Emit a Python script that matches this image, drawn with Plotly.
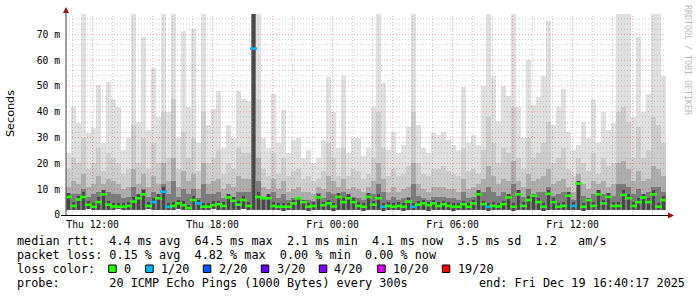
import datetime as dt
import plotly.graph_objects as go

# ---------------- data (ms) ----------------
START = dt.datetime(2025, 12, 18, 10, 40, 17)
STEP_MIN = 15

lo = [2.0, 1.8, 2.1, 1.9, 2.2, 2.0, 1.8, 2.1, 2.0, 1.9, 2.2, 2.0, 1.8, 2.1, 1.9, 2.0, 2.2, 1.8, 2.0, 2.1,
      1.9, 2.0, 2.2, 1.8, 1.9, 2.1, 2.0, 1.8, 2.0, 2.2, 1.9, 2.0, 2.1, 1.8, 2.0, 2.2, 1.9, 2.0, 2.1, 1.8,
      1.9, 2.0, 1.8, 1.7, 1.8, 2.0, 1.9, 1.8, 1.7, 1.9, 2.0, 1.8, 1.9, 1.7, 2.0, 1.8, 1.9, 2.0, 1.8, 1.7,
      1.9, 2.0, 1.8, 1.7, 1.9, 1.8, 2.0, 1.7, 1.9, 1.8, 2.0, 1.9, 1.7, 1.8, 2.0, 1.9, 1.8, 1.7, 1.9, 2.0,
      1.8, 1.9, 2.0, 1.8, 1.7, 1.9, 2.0, 1.8, 1.9, 1.7, 2.0, 1.8, 1.9, 2.0, 1.8, 1.7, 1.9, 2.0, 1.8, 1.9,
      2.0, 1.8, 1.9, 1.7, 2.0, 1.9, 1.8, 2.0, 1.9, 1.8, 2.0, 1.9, 1.8, 2.0, 1.9, 1.8, 2.0, 1.9, 1.8, 2.0]

top = [24, 41.8, 35.5, 78, 31.8, 33.6, 50.3, 28, 51.5, 44.8, 42, 25, 30, 78, 36, 69, 33, 56.8, 38, 78,
       40, 78, 30, 71.5, 42, 72, 28, 78, 35, 41, 48, 26, 35, 30, 48, 45, 44, 78, 78, 30,
       26, 47, 28, 40.6, 24, 29, 30, 22, 25, 20, 22, 29, 53.5, 40, 26, 54, 24, 30, 30, 23,
       26, 42, 78, 51, 25, 32, 24, 27, 34, 78, 35, 26, 24, 31.6, 31, 32, 29, 27, 25, 49.6,
       28, 31, 27, 50, 78, 54, 36.5, 50, 46, 78, 42, 30, 60, 42.5, 45.7, 54, 75, 35, 42, 49,
       32, 25, 27, 36, 30, 45, 28, 40, 33, 35.5, 78, 78, 78, 38, 69, 40, 47, 78, 78, 54]

hi = [18, 22, 20, 30, 18, 20, 26, 17, 24, 22, 20, 16, 18, 35, 20, 30, 18, 28, 20, 40,
      22, 45, 18, 32, 22, 30, 17, 40, 20, 22, 25, 16, 20, 18, 26, 24, 24, 78, 45, 18,
      15, 24, 16, 22, 15, 17, 18, 14, 15, 13, 14, 17, 28, 22, 15, 26, 15, 18, 17, 14,
      16, 22, 40, 26, 15, 18, 15, 16, 19, 40, 20, 16, 15, 18, 18, 19, 17, 16, 15, 26,
      17, 18, 16, 25, 38, 28, 20, 26, 24, 42, 22, 18, 30, 22, 24, 28, 36, 20, 22, 26,
      18, 15, 22, 20, 17, 24, 16, 22, 19, 20, 40, 42, 36, 22, 34, 22, 25, 38, 35, 28]

mid = [11, 13, 12, 16, 11, 12, 15, 12, 14, 13, 12, 10, 11, 18, 12, 16, 11, 15, 12, 20,
       13, 22, 11, 17, 13, 16, 10, 20, 12, 13, 14, 10, 12, 11, 15, 14, 14, 78, 22, 11,
       10, 14, 10, 13, 9, 10, 11, 9, 9, 8, 11, 10, 15, 13, 11, 14, 10, 11, 10, 9,
       11, 13, 20, 14, 9, 11, 9, 10, 11, 20, 12, 10, 9, 11, 11, 11, 10, 10, 9, 14,
       10, 11, 12, 14, 19, 15, 12, 14, 13, 21, 13, 11, 16, 13, 14, 15, 18, 12, 13, 14,
       11, 9, 16, 12, 10, 13, 12, 13, 11, 12, 20, 21, 18, 13, 17, 13, 14, 19, 18, 15]

dark = [8.5, 8, 8, 10, 7, 8, 9, 9.5, 9, 8, 8, 6.5, 7, 11, 8, 10, 7, 9, 8, 12,
        8, 13, 7, 10, 8, 10, 6.5, 12, 8, 8, 9, 6.5, 8, 7, 9, 9, 9, 78, 13, 7,
        8, 9, 6.5, 8, 6, 6.5, 7, 6, 6, 5.5, 8.5, 6.5, 9, 8, 8.5, 9, 8, 7, 6.5, 6,
        8.5, 8, 12, 9, 6, 7, 6, 6.5, 7, 12, 7.5, 6.5, 6, 7, 7, 7, 6.5, 6.5, 6, 9,
        6.5, 7, 9.5, 9, 11, 9, 7.5, 9, 8, 12, 9.5, 7, 10, 8, 9, 9, 11, 7.5, 8, 9,
        9, 6, 13, 7.5, 6.5, 8, 9.5, 8, 8.5, 7.5, 12, 12, 11, 8, 10, 8, 9, 11, 11, 9]

core = [8.5, 5, 7.5, 9, 5.5, 4.5, 7, 9.5, 5.5, 4.5, 4.5, 4.5, 5, 7, 8, 9.5, 5, 6.5, 8, 11,
        4.5, 5, 6, 5.5, 4, 7.5, 6, 4.5, 4.5, 5.5, 5.5, 5, 8, 7, 5.5, 7.5, 5, 78, 9, 7,
        8, 5, 4.5, 4.5, 4.5, 6, 7, 6, 4.5, 5, 8, 5, 6, 4.5, 8.5, 6.5, 8, 6.5, 5, 4.5,
        8.5, 5.5, 8, 4.5, 5, 4.5, 5, 4.5, 6.5, 4.5, 5.5, 6, 5, 6, 5, 5.5, 5, 4.5, 4.5, 5.5,
        4.5, 6, 9.5, 5.5, 4.5, 5, 4.5, 5.5, 8, 4.5, 9.5, 5, 7.5, 8, 6.5, 4.5, 9.5, 6.5, 4.5, 5,
        9, 5, 13, 4.5, 6.5, 5, 9.5, 6, 8.5, 5, 5, 9.5, 8, 5, 6.5, 8, 6.5, 9.5, 4.5, 7.5]

med = [7, 3.5, 6, 7, 4, 3.2, 5, 8, 4, 3.3, 3.2, 3.2, 3.5, 5.2, 6.5, 8, 3.5, 5, 6.5, 9,
       3.2, 3.5, 4.5, 3.8, 2.7, 5.8, 4.5, 3.2, 3.2, 3.8, 4.2, 3.5, 6.8, 5.5, 4, 5.8, 3.5, 64.5, 7, 6.5,
       6.5, 3.5, 3.2, 3.2, 3.2, 4.5, 6.5, 5, 3.2, 3.5, 6.8, 3.8, 4.5, 3.3, 7, 5, 6.5, 5, 3.5, 3.2,
       7, 4, 6.5, 3.2, 3.5, 3.2, 3.5, 3.2, 5.2, 3.2, 4, 4.5, 3.8, 4.5, 3.5, 4.2, 3.5, 3.2, 3.2, 4.2,
       3.2, 4.5, 8, 4.2, 3.2, 3.5, 3.3, 4.2, 6.8, 3.2, 8, 3.5, 5.8, 7.5, 5, 3.2, 8.2, 5, 3.2, 3.5,
       7.5, 3.5, 12.2, 3.2, 5.8, 3.5, 8, 4.5, 7, 3.5, 3.5, 7.8, 6.5, 3.5, 5, 6.8, 5, 8, 3.2, 5.8]

loss = [0] * 120
for _i in [17, 19, 20, 26, 37, 63, 69, 84, 101]:
    loss[_i] = 1

loss_labels = ["0", "1/20", "2/20", "3/20", "4/20", "10/20", "19/20"]
loss_colors = ["#26ff00", "#00b8ff", "#0059ff", "#5e00ff", "#7e00ff", "#dd00ff", "#ff0000"]
loss_counts = [0, 1, 2, 3, 4, 10, 19]

y_ticks = [0, 10, 20, 30, 40, 50, 60, 70]
y_ticktext = ["0", "10 m", "20 m", "30 m", "40 m", "50 m", "60 m", "70 m"]
x_ticks = [dt.datetime(2025, 12, 18, 12), dt.datetime(2025, 12, 18, 18), dt.datetime(2025, 12, 19, 0),
           dt.datetime(2025, 12, 19, 6), dt.datetime(2025, 12, 19, 12)]
x_ticktext = ["Thu 12:00", "Thu 18:00", "Fri 00:00", "Fri 06:00", "Fri 12:00"]

stats_lines = [
    "median rtt:  4.4 ms avg  64.5 ms max  2.1 ms min  4.1 ms now  3.5 ms sd  1.2   am/s",
    "packet loss: 0.15 % avg  4.82 % max  0.00 % min  0.00 % now",
    "loss color:",
    "probe:       20 ICMP Echo Pings (1000 Bytes) every 300s",
]
end_text = "end: Fri Dec 19 16:40:17 2025"

# ---------------- geometry ----------------
W, H = 697, 297
L, R, T, B = 66, 31, 14, 82
PW, PH = W - L - R, H - T - B
YMAX = 77.9
END = START + dt.timedelta(hours=30)


def px(x):
    return (x - L) / PW


def py(y):
    return (T + PH - y) / PH


MONO = "DejaVu Sans Mono"

n = len(med)
xs = [START + dt.timedelta(minutes=STEP_MIN * i + STEP_MIN / 2) for i in range(n)]
bw = STEP_MIN * 60 * 1000

fig = go.Figure()
bands = [(top, "#e0e0e0", 1.0), (hi, "#cdcdcd", 1.0), (mid, "#adadad", 1.0),
         (dark, "#7c7c7c", 1.0), (core, "#474747", 0.7)]
for arr, col, wf in bands:
    fig.add_trace(go.Bar(x=xs, y=[a - b for a, b in zip(arr, lo)], base=lo, width=bw * wf,
                         marker=dict(color=col, line=dict(width=0)), showlegend=False,
                         hoverinfo="skip"))

cmap = dict(zip(loss_counts, loss_colors))
fig.add_trace(go.Scatter(x=xs, y=med, mode="markers", showlegend=False, hoverinfo="skip",
                         marker=dict(symbol="line-ew", size=5,
                                     line=dict(width=2.6, color=[cmap[l] for l in loss]))))

shapes = []
# grid (rrdtool draws it over the graph)
h = dt.datetime(2025, 12, 18, 11)
while h < END:
    major = h.hour % 3 == 0
    shapes.append(dict(type="line", xref="x", yref="paper", x0=h, x1=h, y0=0, y1=1, layer="above",
                       line=dict(color="rgba(255,0,0,0.35)" if major else "rgba(130,130,130,0.4)",
                                 width=1, dash="1px,2px")))
    h += dt.timedelta(hours=1)
for v in range(2, 78, 2):
    major = v % 10 == 0
    shapes.append(dict(type="line", xref="paper", yref="y", x0=0, x1=1, y0=v, y1=v, layer="above",
                       line=dict(color="rgba(255,0,0,0.35)" if major else "rgba(130,130,130,0.4)",
                                 width=1, dash="1px,2px")))
# axes lines + arrows
shapes.append(dict(type="line", xref="paper", yref="paper", x0=px(66), x1=px(66), y0=py(215), y1=py(10),
                   line=dict(color="#444444", width=1), layer="above"))
shapes.append(dict(type="line", xref="paper", yref="paper", x0=px(61), x1=px(669), y0=py(215.5), y1=py(215.5),
                   line=dict(color="#000000", width=1), layer="above"))
shapes.append(dict(type="path", xref="paper", yref="paper", layer="above",
                   path=f"M {px(63)} {py(13)} L {px(69)} {py(13)} L {px(66)} {py(7)} Z",
                   fillcolor="#9b1111", line=dict(width=0)))
shapes.append(dict(type="path", xref="paper", yref="paper", layer="above",
                   path=f"M {px(668)} {py(212.5)} L {px(668)} {py(218.5)} L {px(674)} {py(215.5)} Z",
                   fillcolor="#9b1111", line=dict(width=0)))

annotations = []
line_y = [241.3, 255.3, 269.3, 283.3]
for txt, yy in zip(stats_lines, line_y):
    annotations.append(dict(text=txt, x=px(16), y=py(yy), xref="paper", yref="paper",
                            xanchor="left", yanchor="middle", showarrow=False, borderpad=0,
                            font=dict(family=MONO, size=11.8, color="#000000")))
annotations.append(dict(text=end_text, x=px(478), y=py(283.3), xref="paper", yref="paper",
                        xanchor="left", yanchor="middle", showarrow=False, borderpad=0,
                        font=dict(family=MONO, size=11.8, color="#000000")))
sq_x = [108.7, 145.7, 203.3, 261.3, 319.3, 377.7, 442.3]
lab_x = [123, 160, 218, 276, 333, 391.5, 456.5]
for sx, lx, lab, col in zip(sq_x, lab_x, loss_labels, loss_colors):
    shapes.append(dict(type="rect", xref="paper", yref="paper", x0=px(sx), x1=px(sx + 7.5),
                       y0=py(265), y1=py(272.5), fillcolor=col, line=dict(color="#000000", width=1)))
    annotations.append(dict(text=lab, x=px(lx), y=py(269.3), xref="paper", yref="paper",
                            xanchor="left", yanchor="middle", showarrow=False, borderpad=0,
                            font=dict(family=MONO, size=11.8, color="#000000")))
annotations.append(dict(text="Seconds", x=px(11), y=py(114), xref="paper", yref="paper",
                        textangle=-90, showarrow=False, xanchor="center", yanchor="middle",
                        font=dict(family="DejaVu Sans", size=11.2, color="#000000")))
annotations.append(dict(text="RRDTOOL / TOBI OETIKER", x=px(688), y=py(60), xref="paper", yref="paper",
                        textangle=90, showarrow=False, xanchor="center", yanchor="middle",
                        font=dict(family=MONO, size=8.3, color="#bbbbbb")))

fig.update_layout(
    width=W, height=H, autosize=False,
    margin=dict(l=L, r=R, t=T, b=B, pad=0),
    paper_bgcolor="#ffffff", plot_bgcolor="#ffffff",
    barmode="overlay", bargap=0,
    shapes=shapes, annotations=annotations,
    showlegend=False,
    xaxis=dict(type="date", range=[START, END], showgrid=False, zeroline=False, showline=False,
               tickvals=x_ticks, ticktext=x_ticktext, ticks="", ticklabelstandoff=2,
               tickfont=dict(family=MONO, size=9.7, color="#000000")),
    yaxis=dict(range=[0, YMAX], showgrid=False, zeroline=False, showline=False,
               tickvals=y_ticks, ticktext=y_ticktext, ticks="", ticklabelstandoff=5,
               tickfont=dict(family=MONO, size=9.7, color="#000000")),
)

fig.write_html("out.html")
